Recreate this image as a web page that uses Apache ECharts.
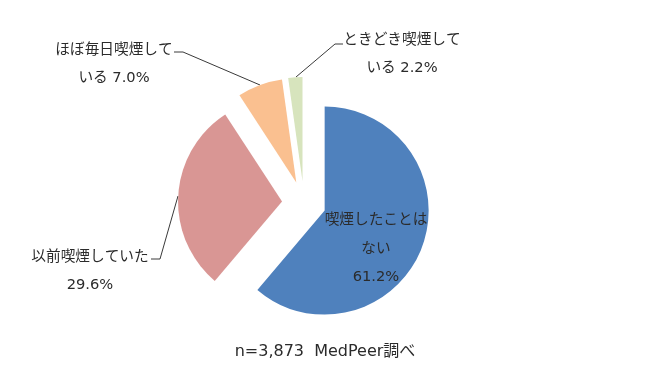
<!DOCTYPE html>
<html>
<head>
<meta charset="utf-8">
<script src="https://cdn.jsdelivr.net/npm/echarts@6/dist/echarts.min.js"></script>
<style>
html,body{margin:0;padding:0;background:#fff;}
#chart{width:650px;height:390px;}
</style>
</head>
<body>
<div id="chart"></div>
<script>
// Data
var categories = ['喫煙したことはない', '以前喫煙していた', 'ほぼ毎日喫煙している', 'ときどき喫煙している'];
var values = [61.2, 29.6, 7.0, 2.2];
var colors = ['#4F81BD', '#D99694', '#FAC090', '#D7E4BD'];
var footnote = 'n=3,873  MedPeer調べ';

// presentation settings
var wrapAt = [7, 8, 8, 8];
var joinWithValue = ['\n', '\n', ' ', ' '];
var labelPos = [[376, 249], [90, 271], [114, 64], [402, 54]];
var leaderPts = [
  null,
  [[178, 196], [160, 259], [151, 259]],
  [[260, 85], [183, 52], [174, 52]],
  [[296, 77], [335, 44], [343, 44]]
];
var pieCenter = [304, 203];
var pieRadius = 104;
var explode = 22;

var fontFam = '"DejaVu Sans", "Noto Sans CJK JP", sans-serif';

var total = values.reduce(function (a, b) { return a + b; }, 0);

function labelText(i) {
  var n = categories[i];
  var w = wrapAt[i];
  var txt = n.length > w ? n.slice(0, w) + '\n' + n.slice(w) : n;
  return txt + joinWithValue[i] + values[i].toFixed(1) + '%';
}

var series = [];
var cum = 0;
categories.forEach(function (cat, i) {
  var mid = (cum + values[i] / 2) / total * Math.PI * 2;
  cum += values[i];
  var cx = pieCenter[0] + explode * Math.sin(mid);
  var cy = pieCenter[1] - explode * Math.cos(mid);
  var data = categories.map(function (name, j) {
    var item = { name: name, value: values[j] };
    if (j === i) {
      item.itemStyle = { color: colors[j] };
    } else {
      item.itemStyle = { color: 'rgba(0,0,0,0)' };
      item.label = { show: false };
      item.labelLine = { show: false };
    }
    return item;
  });
  series.push({
    type: 'pie',
    name: cat,
    center: [cx, cy],
    radius: pieRadius,
    startAngle: 90,
    clockwise: true,
    avoidLabelOverlap: false,
    silent: true,
    data: data,
    emphasis: { disabled: true },
    itemStyle: { borderWidth: 0 },
    label: {
      show: true,
      position: i === 0 ? 'inside' : 'outside',
      fontFamily: fontFam,
      fontSize: 14.67,
      lineHeight: 28.5,
      color: '#2b2b2b',
      align: 'center',
      formatter: function (p) { return labelText(p.dataIndex); }
    },
    labelLine: {
      show: i !== 0,
      lineStyle: { color: '#3a3a3a', width: 1 }
    },
    labelLayout: function (params) {
      var k = params.dataIndex;
      var res = {
        x: labelPos[k][0],
        y: labelPos[k][1],
        align: 'center',
        verticalAlign: 'middle'
      };
      if (leaderPts[k]) res.labelLinePoints = leaderPts[k];
      return res;
    }
  });
});

var chart = echarts.init(document.getElementById('chart'));
chart.setOption({
  animation: false,
  backgroundColor: '#ffffff',
  title: {
    text: footnote,
    left: 'center',
    top: 344,
    padding: 0,
    textStyle: { fontFamily: fontFam, fontSize: 16, fontWeight: 'normal', color: '#2b2b2b' }
  },
  series: series
});
</script>
</body>
</html>
